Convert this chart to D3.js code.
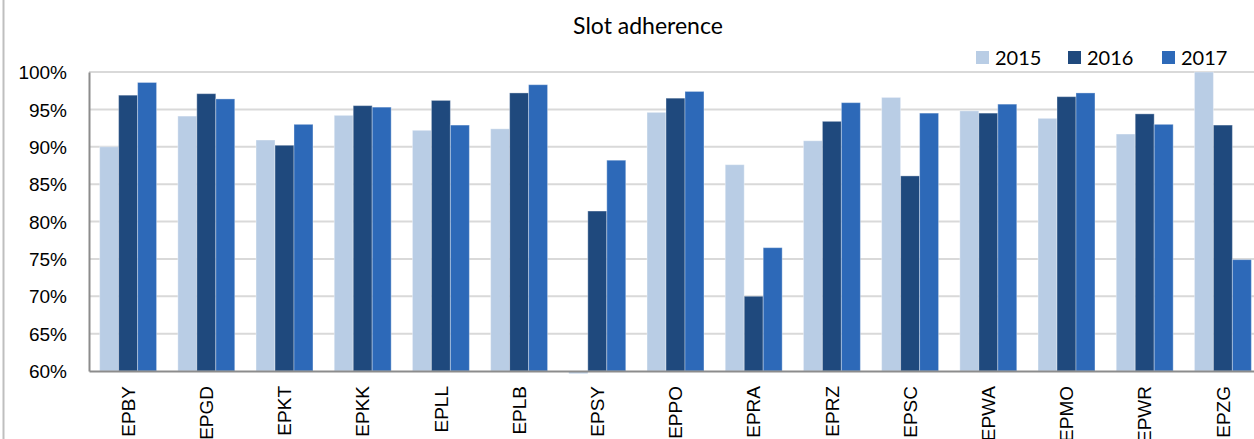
<!DOCTYPE html>
<html>
<head>
<meta charset="utf-8">
<script src="https://cdn.jsdelivr.net/npm/d3@7"></script>
<style>
  html, body { margin: 0; padding: 0; background: #fff; }
  svg { display: block; font-family: Lato, "Open Sans", sans-serif; }
</style>
</head>
<body>
<svg id="chart" width="1254" height="439"></svg>
<script>
// Airports and yearly slot adherence (%)
const airports = ["EPBY","EPGD","EPKT","EPKK","EPLL","EPLB","EPSY","EPPO","EPRA","EPRZ","EPSC","EPWA","EPMO","EPWR","EPZG"];
const years = ["2015","2016","2017"];
const values2015 = [90.0, 94.1, 90.9, 94.2, 92.2, 92.4, 59.8, 94.6, 87.6, 90.8, 96.6, 94.8, 93.8, 91.7, 100.0];
const values2016 = [96.9, 97.1, 90.2, 95.5, 96.2, 97.2, 81.4, 96.5, 70.0, 93.4, 86.1, 94.5, 96.7, 94.4, 92.9];
const values2017 = [98.6, 96.4, 93.0, 95.3, 92.9, 98.3, 88.2, 97.4, 76.5, 95.9, 94.5, 95.7, 97.2, 93.0, 74.9];
const yTicks = [60, 65, 70, 75, 80, 85, 90, 95, 100];
const colors = ["#B9CDE5", "#1F497D", "#2D69B8"];

const seriesValues = [values2015, values2016, values2017];

const svg = d3.select("#chart");

// outer frame edge on the left
svg.append("line")
  .attr("x1", 3.5).attr("x2", 3.5).attr("y1", 0).attr("y2", 439)
  .attr("stroke", "#BFBFBF").attr("stroke-width", 2);

const plot = { left: 89, top: 72, bottom: 371, right: 89 + 15 * 78.2 };

const x = d3.scaleBand().domain(airports).range([plot.left, plot.right]).paddingInner(0).paddingOuter(0);
const inner = d3.scaleBand().domain(years).range([0, x.bandwidth()]).paddingInner(0).paddingOuter(0.56);
const y = d3.scaleLinear().domain([60, 100]).range([plot.bottom, plot.top]);

// gridlines
svg.append("g")
  .selectAll("line")
  .data(yTicks.slice(1))
  .join("line")
  .attr("x1", plot.left).attr("x2", 1254)
  .attr("y1", d => y(d)).attr("y2", d => y(d))
  .attr("stroke", "#D9D9D9").attr("stroke-width", 2);

// bars
const groups = svg.append("g")
  .selectAll("g")
  .data(airports)
  .join("g")
  .attr("transform", d => `translate(${x(d)},0)`);

groups.selectAll("rect")
  .data((d, i) => years.map((yr, s) => ({ yr, s, v: seriesValues[s][i] })))
  .join("rect")
  .attr("x", d => inner(d.yr))
  .attr("width", inner.bandwidth())
  .attr("y", d => Math.min(y(d.v), y(60)))
  .attr("height", d => Math.abs(y(60) - y(d.v)))
  .attr("fill", d => colors[d.s])
  .attr("stroke", "rgba(255,255,255,0.35)")
  .attr("stroke-width", 1);

// y axis
const yAxis = d3.axisLeft(y)
  .tickValues(yTicks)
  .tickFormat(d => d + "%")
  .tickSize(0)
  .tickPadding(22);
const yg = svg.append("g").attr("transform", `translate(${plot.left},0)`).call(yAxis);
yg.select(".domain").attr("stroke", "#8C8C8C").attr("stroke-width", 2);
yg.selectAll("text").attr("font-size", 19).attr("fill", "#000").attr("dy", "0.35em");

// x axis
const xAxis = d3.axisBottom(x).tickSize(0).tickPadding(0);
const xg = svg.append("g").attr("transform", `translate(0,${plot.bottom})`).call(xAxis);
xg.select(".domain").attr("stroke", "#8C8C8C").attr("stroke-width", 2);
xg.selectAll("text")
  .attr("font-size", 19)
  .attr("fill", "#000")
  .attr("text-anchor", "end")
  .attr("transform", "translate(0,15) rotate(-90)")
  .attr("dx", 0)
  .attr("dy", "0.35em")
  .attr("y", 0)
  .attr("x", 0);

// EPSY 2015 falls just under the axis minimum; redraw that sliver above the axis line
groups.filter((d, i) => seriesValues[0][i] < 60)
  .append("rect")
  .attr("x", inner("2015"))
  .attr("width", inner.bandwidth())
  .attr("y", y(60) + 1)
  .attr("height", y(values2015[6]) - y(60))
  .attr("fill", colors[0]);

// title
svg.append("text")
  .attr("x", 648).attr("y", 34)
  .attr("text-anchor", "middle")
  .attr("font-size", 23)
  .attr("fill", "#000")
  .text("Slot adherence");

// legend
const legendX = [976, 1068, 1162];
const legend = svg.append("g")
  .selectAll("g")
  .data(years)
  .join("g")
  .attr("transform", (d, i) => `translate(${legendX[i]},0)`);
legend.append("rect")
  .attr("x", 0).attr("y", 51).attr("width", 13).attr("height", 13)
  .attr("fill", (d, i) => colors[i]);
legend.append("text")
  .attr("x", 19).attr("y", 65)
  .attr("font-size", 20)
  .attr("fill", "#000")
  .text(d => d);
</script>
</body>
</html>
